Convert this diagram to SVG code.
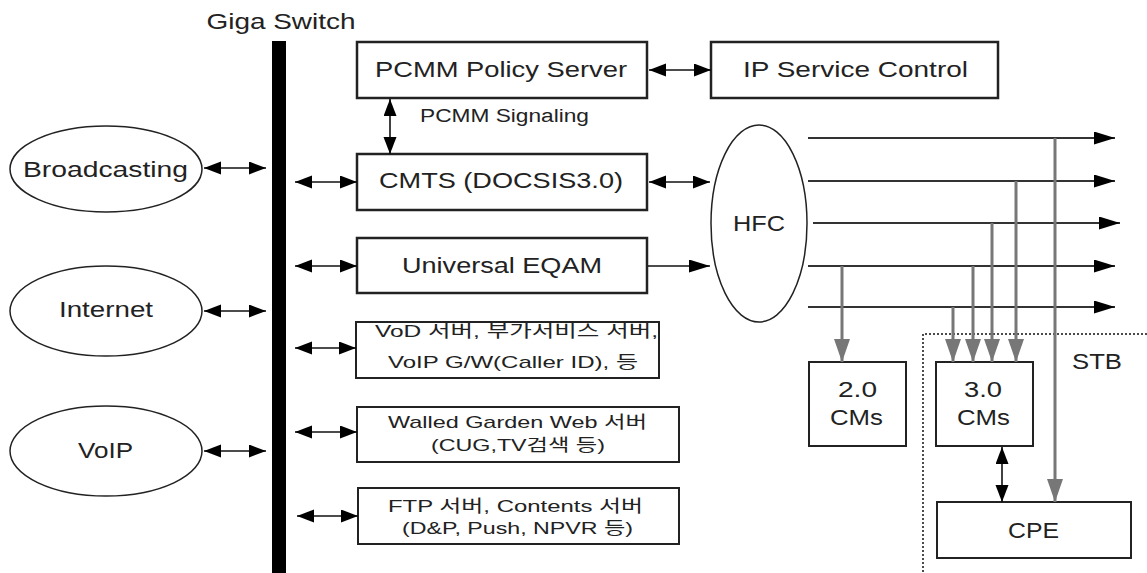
<svg xmlns="http://www.w3.org/2000/svg" width="1147" height="573" viewBox="0 0 1147 573">
<defs>
<style>
text{font-family:"Liberation Sans","Noto Sans CJK KR",sans-serif;fill:#222;}
.big{font-size:22px;}
.mid{font-size:18px;}
.sm{font-size:17px;}
.box{fill:#fff;stroke:#222;stroke-width:2.5;}
.ell{fill:#fff;stroke:#222;stroke-width:1.5;}
.con{stroke:#111;stroke-width:1.6;fill:none;}
.hl{stroke:#333;stroke-width:2;fill:none;}
.gl{stroke:#777;stroke-width:3;fill:none;}
</style>
<marker id="ah" markerUnits="userSpaceOnUse" markerWidth="18" markerHeight="14" refX="17" refY="6.5" orient="auto-start-reverse"><path d="M0,0 L17,6.5 L0,13 z" fill="#000"/></marker>
<marker id="ahh" markerUnits="userSpaceOnUse" markerWidth="22" markerHeight="14" refX="21" refY="6.5" orient="auto-start-reverse"><path d="M0,0 L21,6.5 L0,13 z" fill="#000"/></marker>
<marker id="ga" markerUnits="userSpaceOnUse" markerWidth="24" markerHeight="18" refX="23" refY="8" orient="auto"><path d="M0,0 L23,8 L0,16 z" fill="#777"/></marker>
</defs>
<rect width="1147" height="573" fill="#fff"/>

<g id="giga-switch">
<rect x="272" y="41" width="14" height="532" fill="#000"/>
<text class="big" x="281" y="29" text-anchor="middle" textLength="149" lengthAdjust="spacingAndGlyphs">Giga Switch</text>
</g>

<g id="broadcasting"><ellipse class="ell" cx="106" cy="169" rx="96" ry="43"/><text class="big" x="105.5" y="177" text-anchor="middle" textLength="165" lengthAdjust="spacingAndGlyphs">Broadcasting</text></g>
<g id="internet"><ellipse class="ell" cx="106" cy="311" rx="96" ry="45"/><text class="big" x="106" y="317" text-anchor="middle" textLength="94" lengthAdjust="spacingAndGlyphs">Internet</text></g>
<g id="voip"><ellipse class="ell" cx="106" cy="451" rx="96" ry="45"/><text class="big" x="105.5" y="458" text-anchor="middle" textLength="55" lengthAdjust="spacingAndGlyphs">VoIP</text></g>

<g id="pcmm-policy-server"><rect class="box" x="357" y="42" width="290" height="56"/><text class="big" x="501" y="77" text-anchor="middle" textLength="252" lengthAdjust="spacingAndGlyphs">PCMM Policy Server</text></g>
<g id="ip-service-control"><rect class="box" x="711" y="42" width="287" height="56"/><text class="big" x="855.5" y="77" text-anchor="middle" textLength="225" lengthAdjust="spacingAndGlyphs">IP Service Control</text></g>
<g id="cmts"><rect class="box" x="357" y="154" width="290" height="56"/><text class="big" x="501" y="188" text-anchor="middle" textLength="244" lengthAdjust="spacingAndGlyphs">CMTS (DOCSIS3.0)</text></g>
<g id="universal-eqam"><rect class="box" x="357" y="238" width="290" height="55"/><text class="big" x="502" y="273" text-anchor="middle" textLength="200" lengthAdjust="spacingAndGlyphs">Universal EQAM</text></g>

<g id="vod"><rect class="box" x="356" y="322" width="303" height="56" style="stroke-width:2"/>
<text class="sm" x="516.5" y="337" text-anchor="middle" textLength="283" lengthAdjust="spacingAndGlyphs">VoD 서버, 부가서비스 서버,</text>
<text class="sm" x="513" y="368" text-anchor="middle" textLength="250" lengthAdjust="spacingAndGlyphs">VoIP G/W(Caller ID), 등</text></g>
<g id="walled-garden"><rect class="box" x="357" y="407" width="322" height="55" style="stroke-width:2"/>
<text class="sm" x="517.5" y="428" text-anchor="middle" textLength="259" lengthAdjust="spacingAndGlyphs">Walled Garden Web 서버</text>
<text class="sm" x="518" y="451" text-anchor="middle" textLength="174" lengthAdjust="spacingAndGlyphs">(CUG,TV검색 등)</text></g>
<g id="ftp"><rect class="box" x="358" y="488" width="321" height="56" style="stroke-width:2"/>
<text class="sm" x="515.5" y="512" text-anchor="middle" textLength="255" lengthAdjust="spacingAndGlyphs">FTP 서버, Contents 서버</text>
<text class="sm" x="517.5" y="534" text-anchor="middle" textLength="231" lengthAdjust="spacingAndGlyphs">(D&amp;P, Push, NPVR 등)</text></g>

<g id="hfc"><ellipse class="ell" cx="759" cy="223.5" rx="48" ry="98.5"/><text class="big" x="759" y="231" text-anchor="middle" textLength="52" lengthAdjust="spacingAndGlyphs">HFC</text></g>

<g id="stb"><path d="M1147,334 H923 V573" fill="none" stroke="#111" stroke-width="1.5" stroke-dasharray="2,2"/><text class="big" x="1097" y="369" text-anchor="middle" textLength="50" lengthAdjust="spacingAndGlyphs">STB</text></g>
<g id="cm20"><rect class="box" x="809" y="362" width="97" height="84" style="stroke-width:2"/><text class="big" x="857.5" y="397" text-anchor="middle" textLength="39" lengthAdjust="spacingAndGlyphs">2.0</text><text class="big" x="856.5" y="425" text-anchor="middle" textLength="53" lengthAdjust="spacingAndGlyphs">CMs</text></g>
<g id="cm30"><rect class="box" x="936" y="362" width="97" height="84" style="stroke-width:2"/><text class="big" x="983" y="397" text-anchor="middle" textLength="38" lengthAdjust="spacingAndGlyphs">3.0</text><text class="big" x="983.5" y="425" text-anchor="middle" textLength="53" lengthAdjust="spacingAndGlyphs">CMs</text></g>
<g id="cpe"><rect class="box" x="937" y="502" width="194" height="56" style="stroke-width:2"/><text class="big" x="1033.5" y="538" text-anchor="middle" textLength="51" lengthAdjust="spacingAndGlyphs">CPE</text></g>

<g id="connectors">
<line class="con" x1="204" y1="168" x2="266" y2="168" marker-start="url(#ah)" marker-end="url(#ah)"/>
<line class="con" x1="204" y1="311" x2="266" y2="311" marker-start="url(#ah)" marker-end="url(#ah)"/>
<line class="con" x1="204" y1="451" x2="266" y2="451" marker-start="url(#ah)" marker-end="url(#ah)"/>
<line class="con" x1="295" y1="182" x2="357" y2="182" marker-start="url(#ah)" marker-end="url(#ah)"/>
<line class="con" x1="295" y1="266" x2="357" y2="266" marker-start="url(#ah)" marker-end="url(#ah)"/>
<line class="con" x1="295" y1="348" x2="356" y2="348" marker-start="url(#ah)" marker-end="url(#ah)"/>
<line class="con" x1="295" y1="432" x2="357" y2="432" marker-start="url(#ah)" marker-end="url(#ah)"/>
<line class="con" x1="297" y1="516" x2="358" y2="516" marker-start="url(#ah)" marker-end="url(#ah)"/>
<line class="con" x1="649" y1="70" x2="711" y2="70" marker-start="url(#ah)" marker-end="url(#ah)"/>
<line class="con" x1="390" y1="99" x2="390" y2="154" marker-start="url(#ah)" marker-end="url(#ah)"/>
<text class="mid" x="504.5" y="122" text-anchor="middle" textLength="169" lengthAdjust="spacingAndGlyphs">PCMM Signaling</text>
<line class="con" x1="649" y1="182" x2="710" y2="182" marker-start="url(#ah)" marker-end="url(#ah)"/>
<line class="con" x1="648" y1="266" x2="710" y2="266" marker-end="url(#ahh)"/>
<line class="con" x1="1002" y1="447" x2="1002" y2="502" marker-start="url(#ah)" marker-end="url(#ah)"/>
<line class="hl" x1="808" y1="138" x2="1115" y2="138" marker-end="url(#ahh)"/>
<line class="hl" x1="808" y1="181" x2="1115" y2="181" marker-end="url(#ahh)"/>
<line class="hl" x1="813" y1="223" x2="1120" y2="223" marker-end="url(#ahh)"/>
<line class="hl" x1="808" y1="266" x2="1115" y2="266" marker-end="url(#ahh)"/>
<line class="hl" x1="808" y1="307" x2="1115" y2="307" marker-end="url(#ahh)"/>
<line class="gl" x1="842" y1="266" x2="842" y2="362" marker-end="url(#ga)"/>
<line class="gl" x1="953" y1="307" x2="953" y2="362" marker-end="url(#ga)"/>
<line class="gl" x1="973" y1="266" x2="973" y2="362" marker-end="url(#ga)"/>
<line class="gl" x1="992" y1="223" x2="992" y2="362" marker-end="url(#ga)"/>
<line class="gl" x1="1016" y1="181" x2="1016" y2="362" marker-end="url(#ga)"/>
<line class="gl" x1="1055" y1="138" x2="1055" y2="502" marker-end="url(#ga)"/>
</g>
</svg>
